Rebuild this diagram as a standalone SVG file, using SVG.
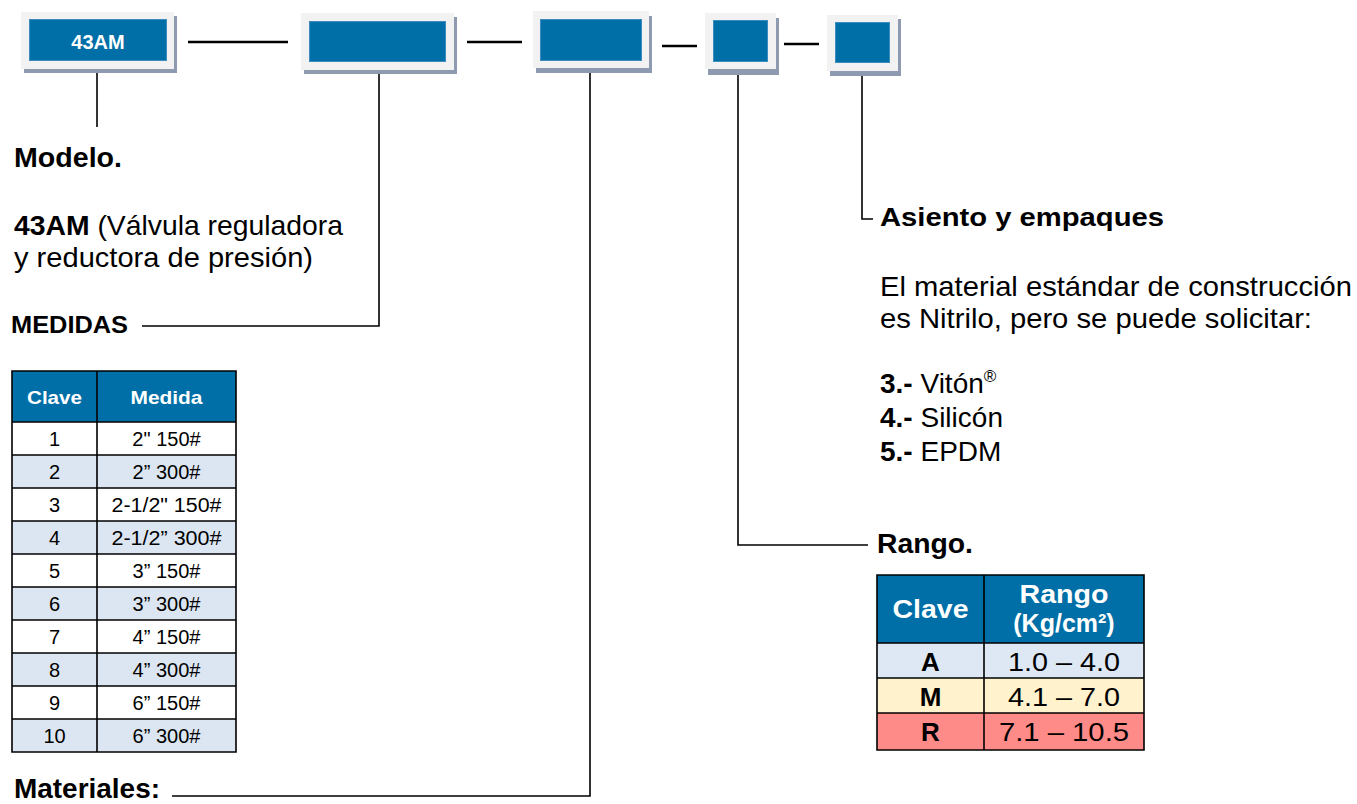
<svg xmlns="http://www.w3.org/2000/svg" width="1357" height="804" viewBox="0 0 1357 804">
<style>
  text { font-family: "Liberation Sans", Arial, sans-serif; fill: #000; }
  .b { font-weight: bold; }
  .shadow { fill: #8E9AB0; }
  .outer { fill: #F2F2F2; }
  .inner { fill: #006FA7; stroke: #3B8DC0; stroke-width: 1; }
  .boxtxt { fill: #FFFFFF; font-weight: bold; font-size: 20px; text-anchor: middle; }
  .link { stroke: #000; stroke-width: 2.5; fill: none; }
  .lead { stroke: #000; stroke-width: 1.6; fill: none; }
  .lbl { font-size: 27px; font-weight: bold; }
  .body { font-size: 28px; }
  .grid { stroke: #000; stroke-width: 1.6; fill: none; }
  .hdr { fill: #006FA7; }
  .th { fill: #FFFFFF; font-weight: bold; text-anchor: middle; }
  .td { text-anchor: middle; font-size: 20px; }
  .td2 { text-anchor: middle; font-size: 26px; }
</style>
<rect width="1357" height="804" fill="#FFFFFF"/>

<g id="connectors">
  <line class="link" x1="188" y1="42" x2="288" y2="42"/>
  <line class="link" x1="467" y1="42" x2="522" y2="42"/>
  <line class="link" x1="662" y1="46" x2="697" y2="46"/>
  <line class="link" x1="784" y1="44" x2="819" y2="44"/>
  <polyline class="lead" points="97,72 97,127"/>
  <polyline class="lead" points="379,73 379,326 142,326"/>
  <polyline class="lead" points="590,72 590,796 172,796"/>
  <polyline class="lead" points="738,74 738,545 868,545"/>
  <polyline class="lead" points="862,75 862,219 873,219"/>
</g>

<g id="box-modelo">
  <rect class="shadow" x="24" y="16" width="153" height="57"/>
  <rect class="outer" x="21" y="12" width="153" height="57"/>
  <rect class="inner" x="29.5" y="19.5" width="137" height="41"/>
  <text class="boxtxt" x="98" y="49">43AM</text>
</g>
<g id="box-medidas">
  <rect class="shadow" x="304" y="17" width="153" height="57"/>
  <rect class="outer" x="301" y="13" width="153" height="57"/>
  <rect class="inner" x="309.5" y="21.5" width="136" height="40"/>
</g>
<g id="box-materiales">
  <rect class="shadow" x="536" y="16" width="116" height="57"/>
  <rect class="outer" x="533" y="11" width="116" height="57"/>
  <rect class="inner" x="540.5" y="19.5" width="101" height="41"/>
</g>
<g id="box-rango">
  <rect class="shadow" x="708" y="18" width="71" height="57"/>
  <rect class="outer" x="705" y="13" width="71" height="56"/>
  <rect class="inner" x="713.5" y="20.5" width="54" height="41"/>
</g>
<g id="box-asiento">
  <rect class="shadow" x="830" y="19" width="71" height="57"/>
  <rect class="outer" x="827" y="15" width="71" height="56"/>
  <rect class="inner" x="835.5" y="22.5" width="54" height="40"/>
</g>

<g id="modelo">
  <text class="lbl" x="14" y="167" textLength="108" lengthAdjust="spacingAndGlyphs">Modelo.</text>
  <text class="body" x="14" y="235" textLength="329" lengthAdjust="spacingAndGlyphs"><tspan class="b">43AM</tspan> (Válvula reguladora</text>
  <text class="body" x="14" y="267" textLength="299" lengthAdjust="spacingAndGlyphs">y reductora de presión)</text>
</g>

<g id="medidas">
  <text class="b" x="11" y="333" font-size="23" textLength="117" lengthAdjust="spacingAndGlyphs">MEDIDAS</text>
  <rect class="hdr" x="12" y="371" width="224" height="51"/>
  <rect x="12" y="455" width="224" height="33" fill="#DCE6F2"/>
  <rect x="12" y="521" width="224" height="33" fill="#DCE6F2"/>
  <rect x="12" y="587" width="224" height="33" fill="#DCE6F2"/>
  <rect x="12" y="653" width="224" height="33" fill="#DCE6F2"/>
  <rect x="12" y="719" width="224" height="33" fill="#DCE6F2"/>
  <path class="grid" d="M12,371 H236 V752 H12 Z M97,371 V752 M12,422 H236 M12,455 H236 M12,488 H236 M12,521 H236 M12,554 H236 M12,587 H236 M12,620 H236 M12,653 H236 M12,686 H236 M12,719 H236"/>
  <text class="th" x="54.5" y="404" font-size="19" textLength="55" lengthAdjust="spacingAndGlyphs">Clave</text>
  <text class="th" x="166.5" y="404" font-size="19" textLength="72" lengthAdjust="spacingAndGlyphs">Medida</text>
  <text class="td" x="54.5" y="446">1</text><text class="td" x="166.5" y="446">2" 150#</text>
  <text class="td" x="54.5" y="479">2</text><text class="td" x="166.5" y="479">2” 300#</text>
  <text class="td" x="54.5" y="512">3</text><text class="td" x="166.5" y="512" textLength="110" lengthAdjust="spacingAndGlyphs">2-1/2" 150#</text>
  <text class="td" x="54.5" y="545">4</text><text class="td" x="166.5" y="545" textLength="110" lengthAdjust="spacingAndGlyphs">2-1/2” 300#</text>
  <text class="td" x="54.5" y="578">5</text><text class="td" x="166.5" y="578">3” 150#</text>
  <text class="td" x="54.5" y="611">6</text><text class="td" x="166.5" y="611">3” 300#</text>
  <text class="td" x="54.5" y="644">7</text><text class="td" x="166.5" y="644">4” 150#</text>
  <text class="td" x="54.5" y="677">8</text><text class="td" x="166.5" y="677">4” 300#</text>
  <text class="td" x="54.5" y="710">9</text><text class="td" x="166.5" y="710">6” 150#</text>
  <text class="td" x="54.5" y="743">10</text><text class="td" x="166.5" y="743">6” 300#</text>
</g>

<g id="materiales">
  <text class="lbl" x="14" y="798" textLength="146" lengthAdjust="spacingAndGlyphs">Materiales:</text>
</g>

<g id="asiento">
  <text class="b" x="880" y="226" font-size="25" textLength="284" lengthAdjust="spacingAndGlyphs">Asiento y empaques</text>
  <text class="body" x="880" y="296" textLength="472" lengthAdjust="spacingAndGlyphs">El material estándar de construcción</text>
  <text class="body" x="880" y="328" textLength="432" lengthAdjust="spacingAndGlyphs">es Nitrilo, pero se puede solicitar:</text>
  <text class="body" x="880" y="393"><tspan class="b">3.-</tspan> Vitón<tspan font-size="17" dy="-11">®</tspan></text>
  <text class="body" x="880" y="427"><tspan class="b">4.-</tspan> Silicón</text>
  <text class="body" x="880" y="461"><tspan class="b">5.-</tspan> EPDM</text>
</g>

<g id="rango">
  <text class="lbl" x="877" y="553" textLength="96" lengthAdjust="spacingAndGlyphs">Rango.</text>
  <rect class="hdr" x="877" y="575" width="267" height="68"/>
  <rect x="877" y="643" width="267" height="35" fill="#DDE8F4"/>
  <rect x="877" y="678" width="267" height="35" fill="#FFF2CC"/>
  <rect x="877" y="713" width="267" height="37" fill="#FF8B88"/>
  <path class="grid" d="M877,575 H1144 V750 H877 Z M984,575 V750 M877,643 H1144 M877,678 H1144 M877,713 H1144"/>
  <text class="th" x="930.5" y="618" font-size="25" textLength="76" lengthAdjust="spacingAndGlyphs">Clave</text>
  <text class="th" x="1064" y="603" font-size="25" textLength="89" lengthAdjust="spacingAndGlyphs">Rango</text>
  <text class="th" x="1064" y="632" font-size="25">(Kg/cm²)</text>
  <text class="td2 b" x="930.5" y="671">A</text>
  <text class="td2 b" x="930.5" y="706">M</text>
  <text class="td2 b" x="930.5" y="741">R</text>
  <text class="td2" x="1064" y="671" textLength="112" lengthAdjust="spacingAndGlyphs">1.0 – 4.0</text>
  <text class="td2" x="1064" y="706" textLength="112" lengthAdjust="spacingAndGlyphs">4.1 – 7.0</text>
  <text class="td2" x="1064" y="741" textLength="130" lengthAdjust="spacingAndGlyphs">7.1 – 10.5</text>
</g>
</svg>
